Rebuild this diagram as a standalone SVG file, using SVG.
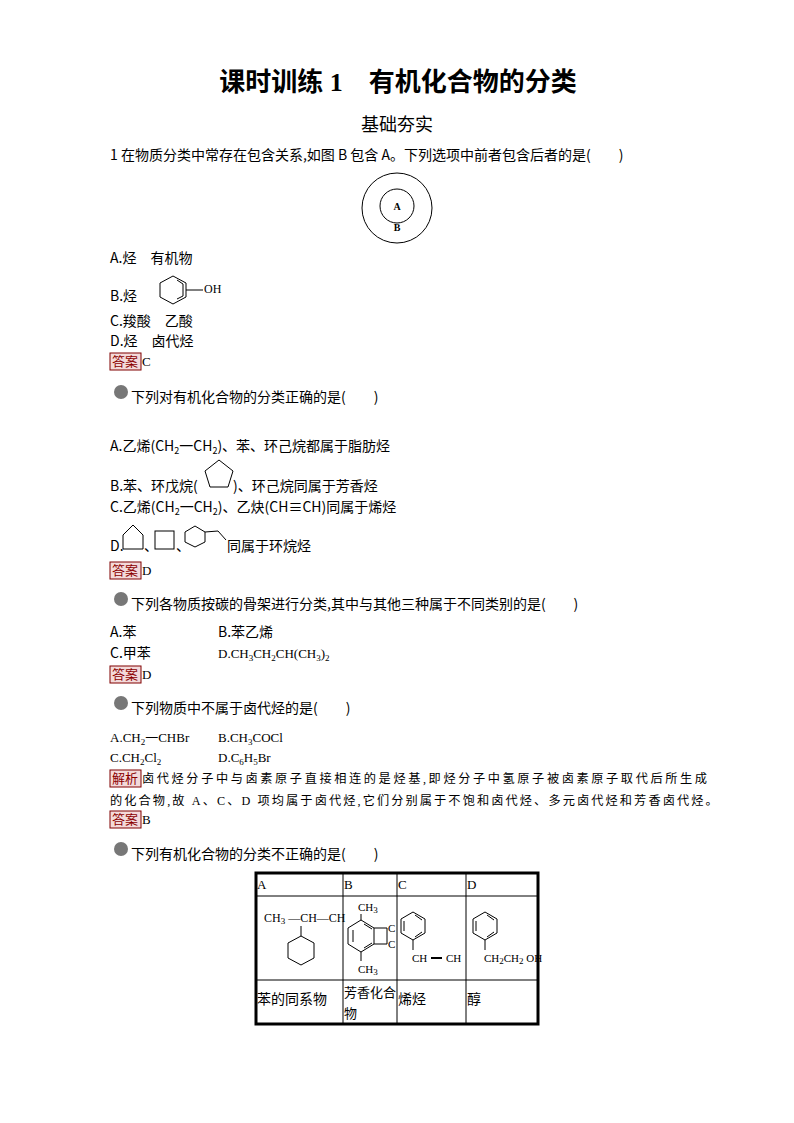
<svg xmlns="http://www.w3.org/2000/svg" width="794" height="1123" viewBox="0 0 794 1123">
<style>
text{font-family:"Liberation Serif","Noto Sans CJK SC",serif;font-size:13px;fill:#000}
.s{font-family:"Noto Sans CJK SC","Liberation Sans",sans-serif;font-size:14px}
.ln{fill:none;stroke:#000;stroke-width:1}
.box{fill:#f3dada;stroke:#800000;stroke-width:1}
.ans{fill:#8b0000;font-family:"Noto Sans CJK SC",sans-serif;font-size:13px}
.ic{fill:#777}
.sub{font-size:9px}
</style>
<rect width="794" height="1123" fill="#fff"/>
<text x="398" y="91" text-anchor="middle" style="font-size:26px;font-weight:bold;font-family:'Liberation Serif','Noto Sans CJK SC',serif">课时训练 1　有机化合物的分类</text>
<text x="397" y="131" text-anchor="middle" style="font-size:18px">基础夯实</text>
<text x="110" y="160" class="s">1 在物质分类中常存在包含关系,如图 B 包含 A。下列选项中前者包含后者的是(　　)</text>
<g id="venn">
<circle cx="397" cy="208" r="35" class="ln"/>
<circle cx="397" cy="206" r="17" class="ln"/>
<text x="397" y="210" text-anchor="middle" style="font-size:10px;font-weight:bold">A</text>
<text x="397" y="231" text-anchor="middle" style="font-size:10px;font-weight:bold">B</text>
</g>
<text x="110" y="263" class="s">A.烃　有机物</text>
<text x="110" y="301" class="s">B.烃</text>
<g id="phenol" class="ln">
<polygon points="173,276 186,283 186,297 173,304 160,297 160,283"/>
<polyline points="177,280 183,284 183,296 177,299"/>
<line x1="186" y1="290" x2="203" y2="290"/>
</g>
<text x="204" y="293" style="font-size:12px">OH</text>
<text x="110" y="326" class="s">C.羧酸　乙酸</text>
<text x="110" y="346" class="s">D.烃　卤代烃</text>
<rect x="110" y="353" width="31" height="17" class="box"/><text x="112" y="366" class="ans">答案</text><text x="142" y="366">C</text>

<circle cx="121" cy="392" r="7" class="ic"/>
<text x="131" y="402" class="s">下列对有机化合物的分类正确的是(　　)</text>
<text x="110" y="451" class="s">A.乙烯(CH<tspan class="sub" dy="3">2</tspan><tspan dy="-3">一CH</tspan><tspan class="sub" dy="3">2</tspan><tspan dy="-3">)、苯、环己烷都属于脂肪烃</tspan></text>
<text x="110" y="491" class="s">B.苯、环戊烷(</text>
<polygon points="219,460 233,471 228,487 210,487 205,471" class="ln"/>
<text x="233" y="491" class="s">)、环己烷同属于芳香烃</text>
<text x="110" y="512" class="s">C.乙烯(CH<tspan class="sub" dy="3">2</tspan><tspan dy="-3">一CH</tspan><tspan class="sub" dy="3">2</tspan><tspan dy="-3">)、乙炔(CH≡CH)同属于烯烃</tspan></text>
<text x="110" y="551" class="s">D.</text>
<polyline points="123,549 123,535 133,525 143,535 143,549 123,549" class="ln"/>
<text x="144" y="551" class="s">、</text>
<rect x="155" y="531" width="19" height="18" class="ln"/>
<text x="176" y="551" class="s">、</text>
<polyline points="185,542 185,532 195,526 205,532 205,542 195,547 185,542" class="ln"/>
<polyline points="205,532 218,531 226,540" class="ln"/>
<text x="227" y="551" class="s">同属于环烷烃</text>
<rect x="110" y="562" width="31" height="17" class="box"/><text x="112" y="575" class="ans">答案</text><text x="142" y="575">D</text>

<circle cx="121" cy="599" r="7" class="ic"/>
<text x="131" y="609" class="s">下列各物质按碳的骨架进行分类,其中与其他三种属于不同类别的是(　　)</text>
<text x="110" y="637" class="s">A.苯</text><text x="218" y="637" class="s">B.苯乙烯</text>
<text x="110" y="658" class="s">C.甲苯</text><text x="218" y="658">D.CH<tspan class="sub" dy="3">3</tspan><tspan dy="-3">CH</tspan><tspan class="sub" dy="3">2</tspan><tspan dy="-3">CH(CH</tspan><tspan class="sub" dy="3">3</tspan><tspan dy="-3">)</tspan><tspan class="sub" dy="3">2</tspan></text>
<rect x="110" y="666" width="31" height="17" class="box"/><text x="112" y="679" class="ans">答案</text><text x="142" y="679">D</text>

<circle cx="121" cy="703" r="7" class="ic"/>
<text x="131" y="713" class="s">下列物质中不属于卤代烃的是(　　)</text>
<text x="110" y="742">A.CH<tspan class="sub" dy="3">2</tspan><tspan dy="-3">一CHBr</tspan></text><text x="218" y="742">B.CH<tspan class="sub" dy="3">3</tspan><tspan dy="-3">COCl</tspan></text>
<text x="110" y="762">C.CH<tspan class="sub" dy="3">2</tspan><tspan dy="-3">Cl</tspan><tspan class="sub" dy="3">2</tspan></text><text x="218" y="762">D.C<tspan class="sub" dy="3">6</tspan><tspan dy="-3">H</tspan><tspan class="sub" dy="3">5</tspan><tspan dy="-3">Br</tspan></text>
<rect x="110" y="770" width="31" height="17" class="box"/><text x="112" y="783" class="ans">解析</text>
<text x="142" y="783" style="font-size:12.2px;letter-spacing:2.6px">卤代烃分子中与卤素原子直接相连的是烃基,即烃分子中氢原子被卤素原子取代后所生成</text>
<text x="110" y="805" style="font-size:12.2px;letter-spacing:2.1px">的化合物,故 A、C、D 项均属于卤代烃,它们分别属于不饱和卤代烃、多元卤代烃和芳香卤代烃。</text>
<rect x="110" y="811" width="31" height="17" class="box"/><text x="112" y="824" class="ans">答案</text><text x="142" y="824">B</text>

<circle cx="121" cy="849" r="7" class="ic"/>
<text x="131" y="859" class="s">下列有机化合物的分类不正确的是(　　)</text>

<g id="table">
<rect x="256" y="873" width="282" height="151" fill="none" stroke="#000" stroke-width="3"/>
<g class="ln">
<line x1="256" y1="896" x2="538" y2="896"/><line x1="256" y1="980" x2="538" y2="980"/>
<line x1="343" y1="873" x2="343" y2="1024"/><line x1="397" y1="873" x2="397" y2="1024"/><line x1="466" y1="873" x2="466" y2="1024"/>
</g>
<text x="257" y="889">A</text><text x="344" y="889">B</text><text x="398" y="889">C</text><text x="467" y="889">D</text>
<text x="264" y="922" style="font-size:12px">CH<tspan class="sub" dy="2">3</tspan><tspan dy="-2"> —CH—CH</tspan></text>
<g class="ln">
<line x1="301" y1="926" x2="301" y2="936"/>
<polygon points="301,936 314,943 314,958 301,965 288,958 288,943"/>
<polygon points="361,920 374,928 374,944 361,952 348,944 348,928"/>
<line x1="353" y1="930" x2="353" y2="942"/><line x1="364" y1="924" x2="372" y2="929"/><line x1="364" y1="948" x2="372" y2="943"/>
<line x1="361" y1="914" x2="361" y2="920"/><line x1="361" y1="952" x2="361" y2="961"/>
<line x1="374" y1="928" x2="387" y2="928"/><line x1="374" y1="944" x2="387" y2="944"/><line x1="387" y1="928" x2="387" y2="944"/>
<polygon points="413,912 425,919 425,933 413,940 401,933 401,919"/>
<line x1="404" y1="921" x2="404" y2="931"/><line x1="415" y1="915" x2="422" y2="920"/><line x1="415" y1="937" x2="422" y2="932"/>
<line x1="413" y1="940" x2="413" y2="950"/>
<line x1="431" y1="958" x2="442" y2="958" stroke-width="2"/>
<polygon points="485,912 497,919 497,933 485,940 473,933 473,919"/>
<line x1="476" y1="921" x2="476" y2="931"/><line x1="487" y1="915" x2="494" y2="920"/><line x1="487" y1="937" x2="494" y2="932"/>
<line x1="485" y1="940" x2="485" y2="950"/>
</g>
<text x="358" y="911" style="font-size:11px">CH<tspan class="sub" dy="2">3</tspan></text>
<text x="358" y="973" style="font-size:11px">CH<tspan class="sub" dy="2">3</tspan></text>
<text x="388" y="932" style="font-size:11px">C</text><text x="388" y="948" style="font-size:11px">C</text>
<text x="412" y="962" style="font-size:11px">CH</text><text x="446" y="962" style="font-size:11px">CH</text>
<text x="484" y="962" style="font-size:11px">CH<tspan class="sub" dy="2">2</tspan><tspan dy="-2">CH</tspan><tspan class="sub" dy="2">2</tspan><tspan dy="-2"> OH</tspan></text>
<text x="257" y="1004" class="s">苯的同系物</text>
<text x="344" y="997" class="s" style="font-size:13px">芳香化合</text><text x="344" y="1018" class="s" style="font-size:13px">物</text>
<text x="398" y="1004" class="s">烯烃</text>
<text x="467" y="1004" class="s">醇</text>
</g>
</svg>
